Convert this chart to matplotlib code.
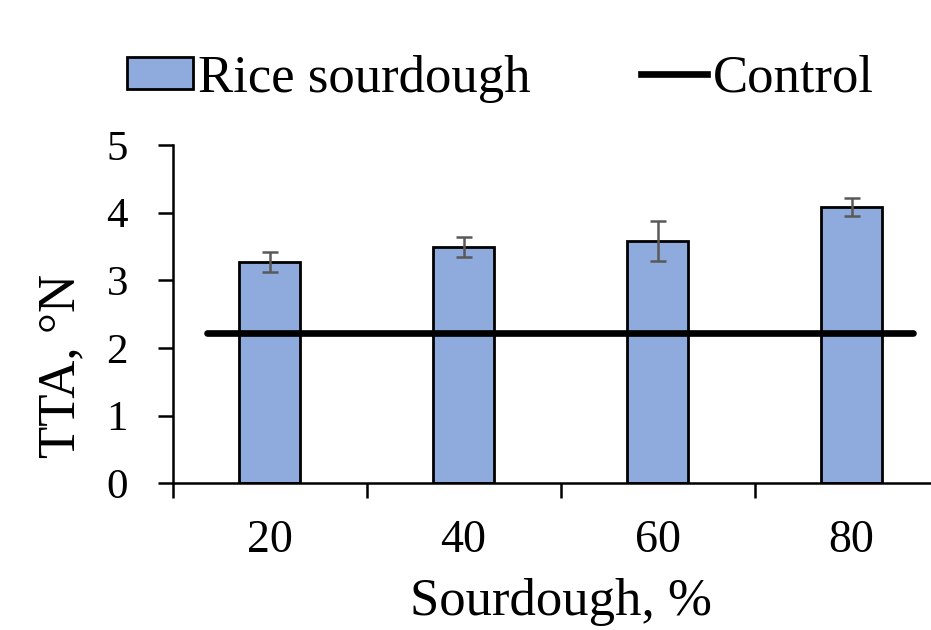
import numpy as np
import matplotlib
matplotlib.use("Agg")
import matplotlib.pyplot as plt
from matplotlib.lines import Line2D
from matplotlib.patches import Patch

# Data
categories = ["20", "40", "60", "80"]
tta = [3.27, 3.49, 3.58, 4.08]
tta_err = [0.15, 0.15, 0.29, 0.13]
control = 2.22

plt.rcParams['font.family'] = ['Liberation Serif', 'DejaVu Serif']

fig = plt.figure(figsize=(9.31, 6.3), dpi=100)
# axes runs past the right edge of the figure like in the original
ax = fig.add_axes([0.1853, 0.2329, 0.8335, 0.537])

x = np.arange(len(categories))
bar_color = "#8FAADC"
ax.bar(x, tta, width=0.31, color=bar_color, edgecolor="black", linewidth=2.0, zorder=2)
ax.errorbar(x, tta, yerr=tta_err, fmt="none", ecolor="#595959",
            elinewidth=1.8, capsize=5.8, capthick=1.8, zorder=4)
ax.axhline(control, xmin=0.044, xmax=0.954, color="black", linewidth=4.8,
           solid_capstyle="round", zorder=3)

ax.set_xlim(-0.5, len(categories) - 0.5)
ax.set_ylim(0, 5)
ax.set_yticks(np.arange(0, 6, 1))

# boundary ticks (major) and centred labels (minor)
ax.set_xticks(np.arange(-0.5, len(categories), 1))
ax.set_xticklabels([])
ax.set_xticks(x, minor=True)
ax.set_xticklabels(categories, minor=True)
ax.tick_params(axis="x", which="major", direction="out", length=11, width=1.8)
ax.tick_params(axis="x", which="minor", length=0, pad=26, labelsize=33)
ax.tick_params(axis="y", direction="out", length=11, width=1.8, pad=21, labelsize=31)

for s in ["top", "right"]:
    ax.spines[s].set_visible(False)
for s in ["left", "bottom"]:
    ax.spines[s].set_linewidth(1.8)

fig.text(0.066, 0.419, "TTA, \u00b0N", rotation=90, ha="center", va="center", fontsize=38)
fig.text(0.602, 0.045, "Sourdough, %", ha="center", va="center", fontsize=38)

handles = [Patch(facecolor=bar_color, edgecolor="black", linewidth=2.0),
           Line2D([0], [0], color="black", linewidth=4.8)]
fig.legend(handles, ["Rice sourdough", "Control"], loc="center",
           bbox_to_anchor=(0.537, 0.875), ncol=2, frameon=False, fontsize=38,
           handlelength=1.25, handletextpad=0.1, columnspacing=2.1,
           handleheight=0.55)

fig.savefig("out.png", dpi=100)
